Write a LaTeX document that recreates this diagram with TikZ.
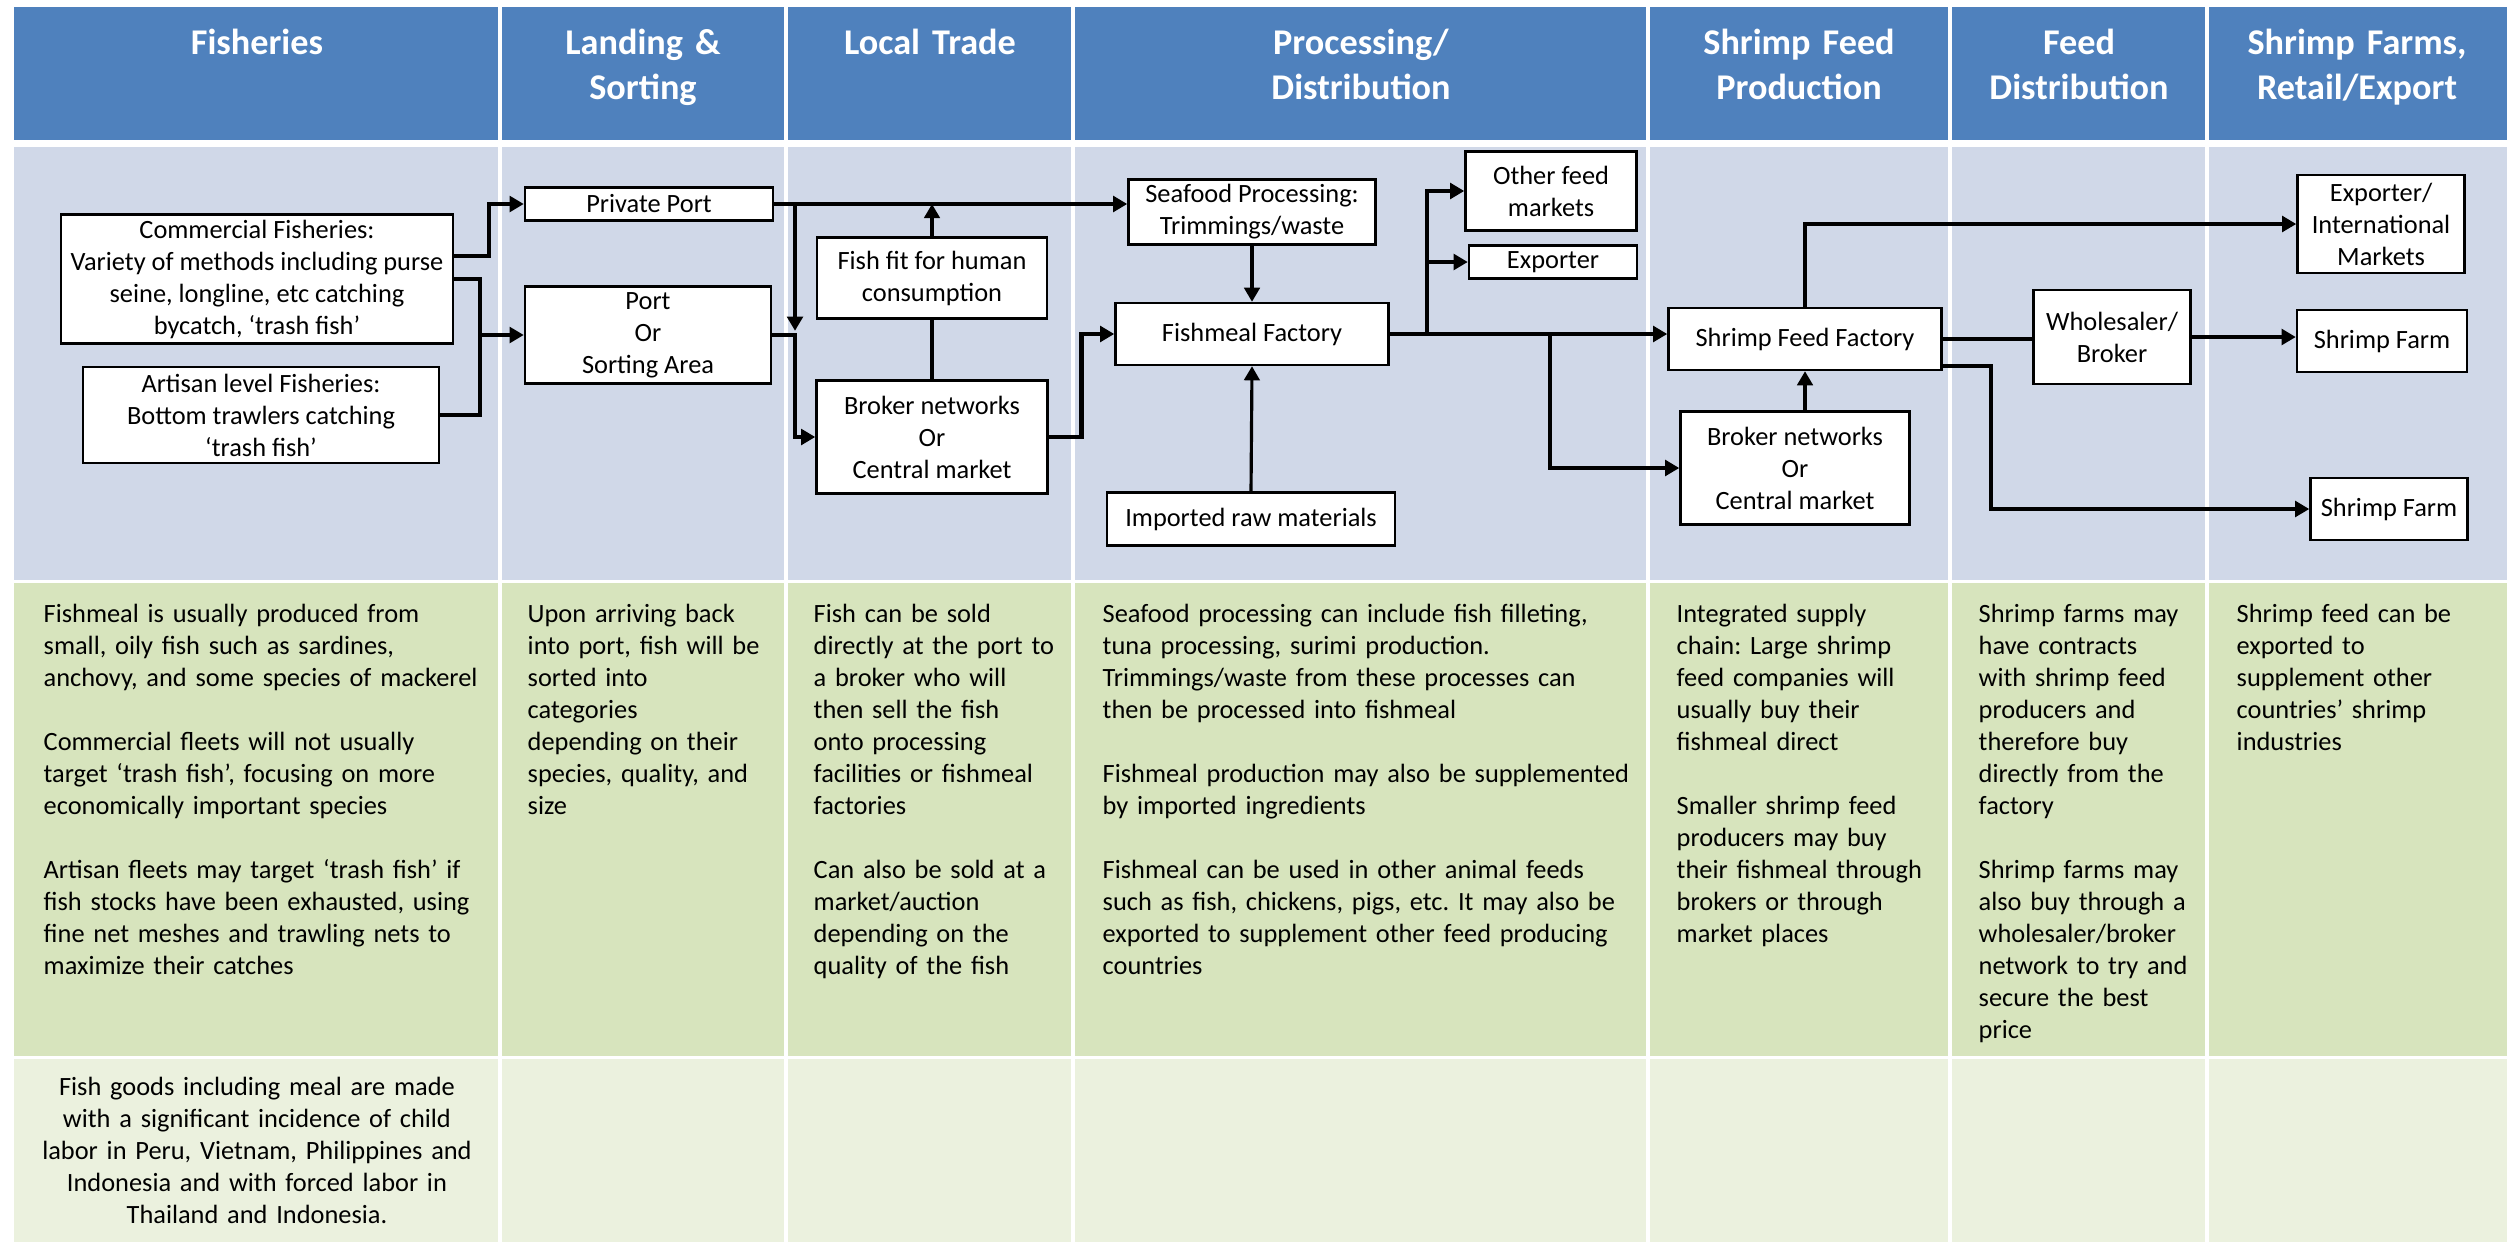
\documentclass[tikz,border=0pt]{standalone}
\usepackage{fontspec}
\setmainfont{Carlito}
\usetikzlibrary{arrows.meta}
\frenchspacing

\definecolor{hdrblue}{HTML}{4F81BD}
\definecolor{rowblue}{HTML}{D0D8E8}
\definecolor{rowgreen}{HTML}{D7E4BD}
\definecolor{rowpale}{HTML}{EBF1DE}

\newcommand{\txtfont}{\fontsize{7.5}{9.1}\selectfont}
\newcommand{\hdrfont}{\fontsize{10.3}{12.8}\selectfont\bfseries}

\begin{document}
\begin{tikzpicture}[x=0.01cm, y=-0.01cm,
    hdr/.style={text=white, font=\hdrfont, align=center, text width=2.8cm, anchor=base, inner sep=0pt},
    note/.style={font=\txtfont, align=left, text width=#1, anchor=base west, inner sep=0pt},
    box/.style={draw, fill=white, line width=0.7pt, align=center, font=\txtfont, inner sep=0pt},
    sz/.style 2 args={minimum width=#1*0.01cm, minimum height=#2*0.01cm},
    flow/.style={line width=1.3pt},
    arr/.style={flow, -{Triangle[length=4pt, width=4.4pt]}},
    tarr/.style={line width=0.9pt, -{Triangle[length=4pt, width=4.4pt]}},
    sep/.style={draw=white, line width=0.9pt}]
  \useasboundingbox (0,0) rectangle (2519,1242);
  \fill[white] (0,0) rectangle (2519,1242);
  \fill[hdrblue] (14,7) rectangle (2507,140);
  \fill[rowblue] (14,147) rectangle (2507,580);
  \fill[rowgreen] (14,583) rectangle (2507,1056);
  \fill[rowpale] (14,1059) rectangle (2507,1242);
  \foreach \x in {500,786,1073,1648,1950,2207}
    \draw[sep] (\x,7) -- (\x,1242);

  \node[hdr] (h1) at (257,54) {Fisheries};
  \node[hdr] (h2) at (643,54) {Landing \&\\Sorting};
  \node[hdr] (h3) at (930,54) {Local Trade};
  \node[hdr] (h4) at (1361,54) {Processing/\\Distribution};
  \node[hdr] (h5) at (1799,54) {Shrimp Feed\\Production};
  \node[hdr] (h6) at (2079,54) {Feed\\Distribution};
  \node[hdr] (h7) at (2357,54) {Shrimp Farms,\\Retail/Export};

  \node[box, sz={392}{129}] (comm) at (257,279) {Commercial Fisheries:\\Variety of methods including purse\\seine, longline, etc catching\\bycatch, ‘trash fish’};
  \node[box, sz={356}{96}] (art) at (261,415) {Artisan level Fisheries:\\Bottom trawlers catching\\‘trash fish’};
  \node[box, sz={248}{33}] (pport) at (649,204) {Private Port};
  \node[box, sz={246}{97}] (port) at (648,335) {Port\\Or\\Sorting Area};
  \node[box, sz={230}{81}] (fit) at (932,278) {Fish fit for human\\consumption};
  \node[box, sz={231}{113}] (brk1) at (932,437) {Broker networks\\Or\\Central market};
  \node[box, sz={247}{65}] (sea) at (1252,212) {Seafood Processing:\\Trimmings/waste};
  \node[box, sz={273}{62}] (fmf) at (1252,334) {Fishmeal Factory};
  \node[box, sz={288}{53}] (imp) at (1251,519) {Imported raw materials};
  \node[box, sz={171}{79}] (oth) at (1551,191) {Other feed\\markets};
  \node[box, sz={168}{33}] (exp) at (1553,262) {Exporter};
  \node[box, sz={273}{62}] (sff) at (1805,339) {Shrimp Feed Factory};
  \node[box, sz={229}{113}] (brk2) at (1795,468) {Broker networks\\Or\\Central market};
  \node[box, sz={157}{94}] (whs) at (2112,337) {Wholesaler/\\Broker};
  \node[box, sz={167}{98}] (intl) at (2381,224) {Exporter/\\International\\Markets};
  \node[box, sz={170}{62}] (farm1) at (2382,341) {Shrimp Farm};
  \node[box, sz={157}{62}] (farm2) at (2389,509) {Shrimp Farm};

  \coordinate (ja) at (480,335);
  \coordinate (jb) at (795,335);
  \coordinate (jc) at (1427,334);
  \coordinate (jd) at (1550,334);

  \draw[arr] (comm.east |- 0,256) -- (489,256) |- (pport.west);
  \draw[flow] (comm.east |- 0,279) -| (ja);
  \draw[flow] (art.east) -| (ja);
  \draw[arr] (ja) -- (port.west);
  \draw[arr] (pport.east) -- (pport.east -| sea.west);
  \draw[arr, shorten >=1.2pt] (pport.east -| jb) -- (jb);
  \draw[arr] (port.east) -- (jb) |- (brk1.west);
  \draw[line width=0.9pt] (brk1.north) -- (fit.south);
  \draw[tarr] (fit.north) -- (fit.north |- pport.east);
  \draw[arr] (brk1.east) -- ++(33,0) |- (fmf.west);
  \draw[tarr] (sea.south) -- (fmf.north);
  \draw[tarr] (imp.north) -- (fmf.south);
  \draw[flow] (fmf.east) -- (jd);
  \draw[arr] (jc) |- (oth.west);
  \draw[arr] (jc |- exp.west) -- (exp.west);
  \draw[arr] (jd) -- (jd -| sff.west);
  \draw[arr] (jd) |- (brk2.west);
  \draw[tarr] (brk2.north -| sff.south) -- (sff.south);
  \draw[arr] (sff.north) |- (intl.west);
  \draw[flow] (sff.east) -- (sff.east -| whs.west);
  \draw[arr] (whs.east) -- (whs.east -| farm1.west);
  \draw[arr] (sff.east |- 0,366) -- (1991,366) |- (farm2.west);

  \node[note=4.5cm] (n1) at (43,622) {Fishmeal is usually produced from\\small, oily fish such as sardines,\\anchovy, and some species of mackerel\\[9.1pt]Commercial fleets will not usually\\target ‘trash fish’, focusing on more\\economically important species\\[9.1pt]Artisan fleets may target ‘trash fish’ if\\fish stocks have been exhausted, using\\fine net meshes and trawling nets to\\maximize their catches};
  \node[note=2.6cm] (n2) at (527,622) {Upon arriving back\\into port, fish will be\\sorted into\\categories\\depending on their\\species, quality, and\\size};
  \node[note=2.6cm] (n3) at (813,622) {Fish can be sold\\directly at the port to\\a broker who will\\then sell the fish\\onto processing\\facilities or fishmeal\\factories\\[9.1pt]Can also be sold at a\\market/auction\\depending on the\\quality of the fish};
  \node[note=5.4cm] (n4) at (1102,622) {Seafood processing can include fish filleting,\\tuna processing, surimi production.\\Trimmings/waste from these processes can\\then be processed into fishmeal\\[9.1pt]Fishmeal production may also be supplemented\\by imported ingredients\\[9.1pt]Fishmeal can be used in other animal feeds\\such as fish, chickens, pigs, etc. It may also be\\exported to supplement other feed producing\\countries};
  \node[note=2.9cm] (n5) at (1676,622) {Integrated supply\\chain: Large shrimp\\feed companies will\\usually buy their\\fishmeal direct\\[9.1pt]Smaller shrimp feed\\producers may buy\\their fishmeal through\\brokers or through\\market places};
  \node[note=2.5cm] (n6) at (1978,622) {Shrimp farms may\\have contracts\\with shrimp feed\\producers and\\therefore buy\\directly from the\\factory\\[9.1pt]Shrimp farms may\\also buy through a\\wholesaler/broker\\network to try and\\secure the best\\price};
  \node[note=2.7cm] (n7) at (2236,622) {Shrimp feed can be\\exported to\\supplement other\\countries’ shrimp\\industries};
  \node[note=4.6cm, align=center, anchor=base] (n8) at (257,1095) {Fish goods including meal are made\\with a significant incidence of child\\labor in Peru, Vietnam, Philippines and\\Indonesia and with forced labor in\\Thailand and Indonesia.};
\end{tikzpicture}
\end{document}
